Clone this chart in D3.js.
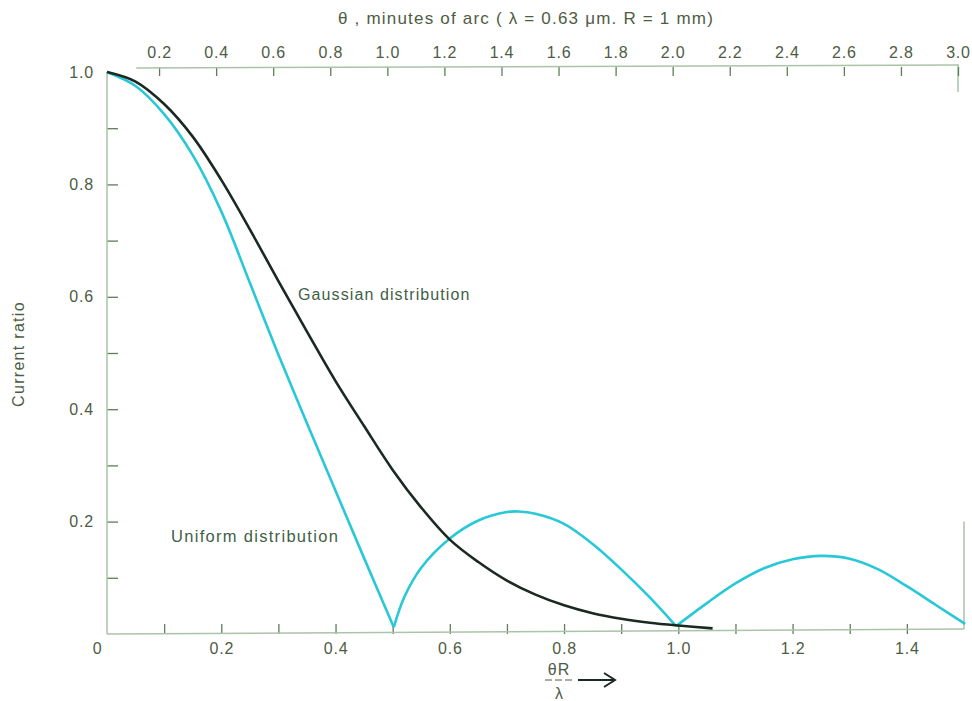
<!DOCTYPE html>
<html>
<head>
<meta charset="utf-8">
<script src="https://cdn.jsdelivr.net/npm/d3@7"></script>
<style>
  body { margin: 0; background: #fff; }
  svg text { font-family: "Liberation Sans", Arial, sans-serif; }
</style>
</head>
<body>
<div id="chart"></div>
<script>
// values (x = thetaR/lambda, y = current ratio)
var uniformX = [0, 0.05, 0.1, 0.15, 0.2, 0.25, 0.3, 0.35, 0.4, 0.45, 0.502,
                0.52, 0.55, 0.6, 0.65, 0.7, 0.72, 0.75, 0.8, 0.85, 0.9, 0.95, 0.996,
                1.05, 1.1, 1.15, 1.2, 1.25, 1.3, 1.35, 1.4, 1.45, 1.502];
var uniformY = [1.0, 0.975, 0.925, 0.852, 0.752, 0.625, 0.497, 0.375, 0.255, 0.135, 0.012,
                0.065, 0.118, 0.17, 0.202, 0.217, 0.218, 0.214, 0.196, 0.16, 0.115, 0.065, 0.014,
                0.055, 0.09, 0.117, 0.133, 0.139, 0.134, 0.115, 0.085, 0.052, 0.018];
// index where each lobe of the uniform curve ends (cusps)
var uniformBreaks = [10, 22];

var gaussX = [0, 0.05, 0.1, 0.15, 0.2, 0.25, 0.3, 0.35, 0.4, 0.45, 0.5, 0.55, 0.6, 0.65,
              0.7, 0.75, 0.8, 0.85, 0.9, 0.95, 1.0, 1.06];
var gaussY = [1.0, 0.983, 0.943, 0.885, 0.808, 0.72, 0.628, 0.538, 0.45, 0.37, 0.292, 0.225, 0.168, 0.128,
              0.095, 0.07, 0.051, 0.037, 0.027, 0.02, 0.015, 0.01];

var bottomTicks = [0.1, 0.2, 0.3, 0.4, 0.5, 0.6, 0.7, 0.8, 0.9, 1.0, 1.1, 1.2, 1.3, 1.4];
var bottomLabels = [0, 0.2, 0.4, 0.6, 0.8, 1.0, 1.2, 1.4];
var leftTicks = [0.1, 0.2, 0.3, 0.4, 0.5, 0.6, 0.7, 0.8, 0.9];
var leftLabels = [0.2, 0.4, 0.6, 0.8, 1.0];
var topTicks = [0.2, 0.4, 0.6, 0.8, 1.0, 1.2, 1.4, 1.6, 1.8, 2.0, 2.2, 2.4, 2.6, 2.8, 3.0];

var svgWidth = 972, svgHeight = 701;
var axisColor = "#a9c4a6", tickColor = "#5f7d5a", labelColor = "#4e5c44";
var cyan = "#28c8d6", dark = "#1b2a20";

var svg = d3.select("#chart").append("svg")
  .attr("width", svgWidth)
  .attr("height", svgHeight);

var x = d3.scaleLinear().domain([0, 1.5]).range([107, 964]);
var xTop = d3.scaleLinear().domain([0, 3]).range([102, 958]);
var y = d3.scaleLinear().domain([0, 1]).range([634, 72]);

function styleLabels(g) {
  g.selectAll("text").attr("fill", labelColor)
    .style("font-size", "16px").style("letter-spacing", "0.8px");
}

// left axis: ticks pointing inward
svg.append("g")
  .attr("transform", "translate(107,0)")
  .call(d3.axisRight(y).tickValues(leftTicks).tickSize(11).tickFormat(""))
  .call(g => g.select(".domain").remove())
  .call(g => g.selectAll("line").attr("stroke", tickColor).attr("stroke-width", 1.3));
svg.append("line")
  .attr("x1", 107).attr("x2", 107).attr("y1", y(1)).attr("y2", y(0))
  .attr("stroke", axisColor).attr("stroke-width", 1.5);

svg.append("g")
  .attr("transform", "translate(107,0)")
  .call(d3.axisLeft(y).tickValues(leftLabels).tickSize(0).tickPadding(13).tickFormat(d3.format(".1f")))
  .call(g => g.select(".domain").remove())
  .call(styleLabels);

// bottom axis
svg.append("g")
  .attr("transform", "translate(0," + y(0) + ")")
  .call(d3.axisTop(x).tickValues(bottomTicks).tickSize(10).tickFormat(""))
  .call(g => g.select(".domain").remove())
  .call(g => g.selectAll("line").attr("stroke", tickColor).attr("stroke-width", 1.3));
svg.append("line")
  .attr("x1", x(0)).attr("x2", x(1.5)).attr("y1", y(0)).attr("y2", y(0) - 5)
  .attr("stroke", axisColor).attr("stroke-width", 1.5);

var bl = svg.append("g")
  .attr("transform", "translate(0," + y(0) + ")")
  .call(d3.axisBottom(x).tickValues(bottomLabels).tickSize(0).tickPadding(9)
    .tickFormat(d => d === 0 ? "0" : d3.format(".1f")(d)))
  .call(g => g.select(".domain").remove())
  .call(styleLabels);
bl.selectAll(".tick").filter(d => d === 0).select("text").attr("x", -10);

// right edge pieces
svg.append("line")
  .attr("x1", x(1.5)).attr("x2", x(1.5)).attr("y1", y(0) - 5).attr("y2", y(0.2))
  .attr("stroke", axisColor).attr("stroke-width", 1.5);
svg.append("line")
  .attr("x1", xTop(3)).attr("x2", xTop(3)).attr("y1", 64).attr("y2", 92)
  .attr("stroke", axisColor).attr("stroke-width", 1.5);

// top axis
var topY = 67;
svg.append("g")
  .attr("transform", "translate(0," + topY + ")")
  .call(d3.axisBottom(xTop).tickValues(topTicks).tickSize(9).tickFormat(""))
  .call(g => g.select(".domain").remove())
  .call(g => g.selectAll("line").attr("stroke", tickColor).attr("stroke-width", 1.3));
svg.append("line")
  .attr("x1", xTop(0.12)).attr("x2", xTop(3)).attr("y1", topY + 1).attr("y2", topY - 2)
  .attr("stroke", axisColor).attr("stroke-width", 1.5);
svg.append("g")
  .attr("transform", "translate(0," + topY + ")")
  .call(d3.axisTop(xTop).tickValues(topTicks).tickSize(0).tickPadding(9).tickFormat(d3.format(".1f")))
  .call(g => g.select(".domain").remove())
  .call(styleLabels);

svg.append("text")
  .attr("x", 526).attr("y", 24)
  .attr("text-anchor", "middle")
  .attr("fill", labelColor)
  .style("font-size", "17px")
  .style("letter-spacing", "1.2px")
  .text("\u03b8 , minutes of arc ( \u03bb = 0.63 \u03bcm. R = 1 mm)");

// y axis title
svg.append("text")
  .attr("transform", "translate(24,354) rotate(-90)")
  .attr("text-anchor", "middle")
  .attr("fill", labelColor)
  .style("font-size", "16px")
  .style("letter-spacing", "1.3px")
  .text("Current ratio");

// x axis title: thetaR / lambda with arrow
svg.append("text").attr("x", 559).attr("y", 675).attr("text-anchor", "middle")
  .attr("fill", labelColor).style("font-size", "16px").style("letter-spacing", "1px").text("\u03b8R");
svg.append("line").attr("x1", 545).attr("x2", 573).attr("y1", 680).attr("y2", 680)
  .attr("stroke", labelColor).attr("stroke-width", 1).attr("stroke-dasharray", "7,3");
svg.append("text").attr("x", 559).attr("y", 699).attr("text-anchor", "middle")
  .attr("fill", labelColor).style("font-size", "16px").text("\u03bb");
svg.append("path")
  .attr("d", "M578,680 L615,680 M604,673 L615,680 L604,687")
  .attr("fill", "none").attr("stroke", dark).attr("stroke-width", 2);

// curves
var line = d3.line()
  .x(d => x(d[0]))
  .y(d => y(d[1]))
  .curve(d3.curveCatmullRom.alpha(0.5));

var uniform = uniformX.map((v, i) => [v, uniformY[i]]);
var starts = [0].concat(uniformBreaks);
var ends = uniformBreaks.concat([uniform.length - 1]);
starts.forEach(function(s, k) {
  svg.append("path")
    .datum(uniform.slice(s, ends[k] + 1))
    .attr("d", line)
    .attr("fill", "none")
    .attr("stroke", cyan)
    .attr("stroke-width", 2.6);
});

svg.append("path")
  .datum(gaussX.map((v, i) => [v, gaussY[i]]))
  .attr("d", line)
  .attr("fill", "none")
  .attr("stroke", dark)
  .attr("stroke-width", 2.6);

// curve labels
svg.append("text").attr("x", 298).attr("y", 300)
  .attr("fill", "#3f5f46").style("font-size", "16px").style("letter-spacing", "1.1px")
  .text("Gaussian distribution");
svg.append("text").attr("x", 171).attr("y", 542)
  .attr("fill", "#3f5f46").style("font-size", "16.5px").style("letter-spacing", "1.3px")
  .text("Uniform distribution");
</script>
</body>
</html>
